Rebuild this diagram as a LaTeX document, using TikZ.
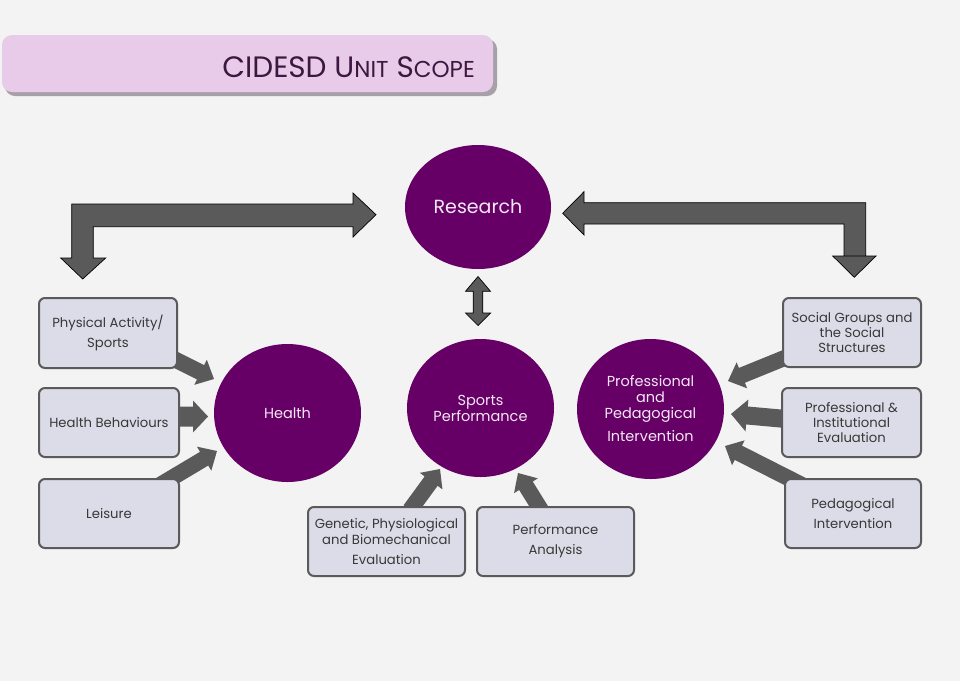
\documentclass[tikz,border=0pt]{standalone}
\usepackage{fontspec}
\setmainfont{Poppins}
\usetikzlibrary{calc,shapes.geometric}
\definecolor{bgc}{HTML}{F3F3F3}
\definecolor{purp}{HTML}{660066}
\definecolor{boxf}{HTML}{DCDCE8}
\definecolor{boxd}{HTML}{5A5A5A}
\definecolor{arrc}{HTML}{5A5A5A}
\definecolor{bannerc}{HTML}{E8CBE8}
\definecolor{shadowc}{HTML}{A8A0A8}
\definecolor{titlec}{HTML}{3C1840}
\definecolor{circtext}{HTML}{F4E8F4}
\definecolor{boxtext}{HTML}{383838}
\pgfdeclarelayer{bg}
\pgfdeclarelayer{arrowlayer}
\pgfsetlayers{bg,arrowlayer,main}
\newcommand\blockarrow[5]{%
  \coordinate (bab) at ($(#2)!#5!(#1)$);
  \fill[arrc] ($(#1)!#3!90:(#2)$) -- ($(bab)!#3!90:(#2)$) -- ($(bab)!#4!90:(#2)$) -- (#2)
    -- ($(bab)!#4!-90:(#2)$) -- ($(bab)!#3!-90:(#2)$) -- ($(#1)!#3!-90:(#2)$) -- cycle;}
\tikzset{
  circ/.style={ellipse, fill=purp, inner sep=0pt, text=circtext, align=center,
    font=\fontsize{14.5}{16}\selectfont},
  box/.style={rectangle, rounded corners=6pt, draw=boxd, line width=2pt, fill=boxf,
    text=boxtext, align=center, inner sep=0pt, font=\fontsize{13.2}{20}\selectfont},
  bigarrow/.style={fill=arrc, draw=black, line width=0.7pt, line join=miter},
}
\begin{document}
\begin{tikzpicture}[x=1pt,y=-1pt]
\begin{pgfonlayer}{bg}
\fill[bgc] (0,0) rectangle (960,681);
\end{pgfonlayer}
\useasboundingbox (0,0) rectangle (960,681);
% title banner
\fill[shadowc, rounded corners=10pt] (5,39) rectangle (497,96);
\fill[bannerc, rounded corners=10pt] (2,35) rectangle (493,92);
\node[anchor=base east, inner sep=0pt, text=titlec, font=\fontsize{29.5}{30}\selectfont] (title) at (475,77)
  {CIDESD U{\fontsize{23}{24}\selectfont NIT} S{\fontsize{23}{24}\selectfont COPE}};
% circles
\node[circ, minimum width=146pt, minimum height=124pt, font=\fontsize{19}{22}\selectfont] (research) at (478,207) {Research};
\node[circ, minimum width=147pt, minimum height=138pt] (health) at (287.5,413) {Health};
\node[circ, minimum width=147pt, minimum height=138pt] (sports) at (480.5,408) {Sports\\Performance};
\node[circ, minimum width=147pt, minimum height=140pt] (prof) at (650.5,409) {Professional\\and\\Pedagogical\\[7pt]Intervention};
% boxes
\node[box, minimum width=138pt, minimum height=70pt] (pa) at (108,333) {Physical Activity/\\Sports};
\node[box, minimum width=140pt, minimum height=69pt] (hb) at (109,422.5) {Health Behaviours};
\node[box, minimum width=140pt, minimum height=69pt] (le) at (109,513.5) {Leisure};
\node[box, minimum width=157pt, minimum height=69pt, font=\fontsize{13.2}{16}\selectfont] (gen) at (386.5,541.5) {Genetic, Physiological\\and Biomechanical\\[4pt]Evaluation};
\node[box, minimum width=157pt, minimum height=69pt] (perf) at (555.5,541.5) {Performance\\Analysis};
\node[box, minimum width=138pt, minimum height=69pt, font=\fontsize{13.2}{15}\selectfont] (soc) at (852,332.5) {Social Groups and\\the Social\\Structures};
\node[box, minimum width=139pt, minimum height=69pt, font=\fontsize{13.2}{15}\selectfont] (pie) at (851.5,422.5) {Professional \&\\Institutional\\Evaluation};
\node[box, minimum width=136pt, minimum height=69pt] (ped) at (853,513.5) {Pedagogical\\Intervention};
% small block arrows (under the boxes)
\begin{pgfonlayer}{arrowlayer}
\coordinate (pa-s) at (168,356);   \coordinate (pa-t) at (214,379);
\coordinate (hb-s) at (176,416.5); \coordinate (hb-t) at (208,416.5);
\coordinate (le-s) at (160,485);   \coordinate (le-t) at (217,451);
\coordinate (gen-s) at (410,510);  \coordinate (gen-t) at (440,469);
\coordinate (perf-s) at (541,510); \coordinate (perf-t) at (518,473);
\coordinate (soc-s) at (787,357);  \coordinate (soc-t) at (728,381);
\coordinate (pie-s) at (786,419);  \coordinate (pie-t) at (731,414);
\coordinate (ped-s) at (802,485);  \coordinate (ped-t) at (725,446);
\blockarrow{pa-s}{pa-t}{8pt}{14pt}{15pt}
\blockarrow{hb-s}{hb-t}{10pt}{16pt}{15pt}
\blockarrow{le-s}{le-t}{8pt}{14pt}{15pt}
\blockarrow{gen-s}{gen-t}{8pt}{14pt}{15pt}
\blockarrow{perf-s}{perf-t}{8pt}{14pt}{15pt}
\blockarrow{soc-s}{soc-t}{8pt}{14pt}{15pt}
\blockarrow{pie-s}{pie-t}{9pt}{16pt}{16pt}
\blockarrow{ped-s}{ped-t}{8pt}{14pt}{15pt}
\end{pgfonlayer}
% double arrow research <-> sports
\draw[bigarrow] (478,276.5) -- (490.5,291.3) -- (482.8,291.3) -- (482.8,313) -- (490.5,313) -- (478,325.5)
  -- (465.5,313) -- (473.2,313) -- (473.2,291.3) -- (465.5,291.3) -- cycle;
% big bent arrows
\draw[bigarrow] (71.7,204) -- (353,204) -- (353,193) -- (376,214.7) -- (353,237) -- (353,226.7)
  -- (93.3,226.7) -- (93.3,258) -- (105.7,258) -- (82.7,279) -- (60.7,258) -- (71.7,258) -- cycle;
\draw[bigarrow] (865.7,202.7) -- (584,202.7) -- (584,191.7) -- (562.7,213.3) -- (584,235) -- (584,224)
  -- (844,224) -- (844,256) -- (876,256) -- (854.3,277.3) -- (832.7,256) -- (865.7,256) -- cycle;
\end{tikzpicture}
\end{document}
